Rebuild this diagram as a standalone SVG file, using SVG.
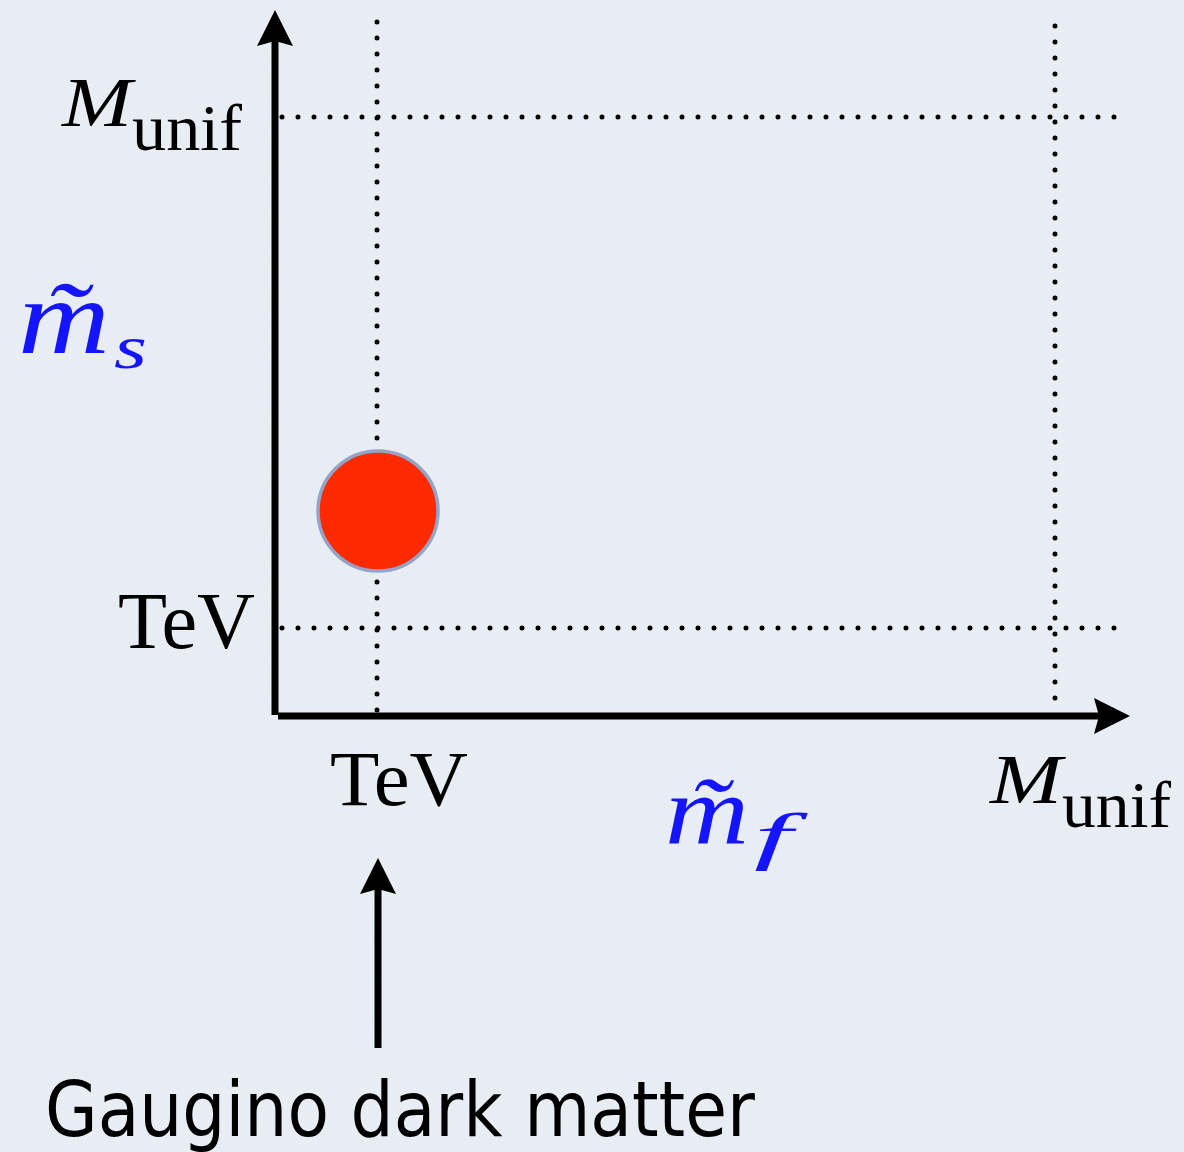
<svg xmlns="http://www.w3.org/2000/svg" width="1184" height="1152" viewBox="0 0 1184 1152">
  <style>
    .dot { fill: none; stroke: #000; stroke-width: 5; stroke-linecap: round; stroke-dasharray: 0 16; }
    .axis { fill: none; stroke: #000; stroke-width: 7; }
    .serif { font-family: "Liberation Serif", "Times New Roman", serif; fill: #000; }
    .ital { font-style: italic; }
    .blue { fill: #1414ff; }
    .sans { font-family: "DejaVu Sans", "Liberation Sans", Arial, sans-serif; fill: #000; }
  </style>
  <defs>
    <filter id="paper" x="0" y="0" width="100%" height="100%">
      <feTurbulence type="fractalNoise" baseFrequency="0.9" numOctaves="2" seed="3" result="n"/>
      <feColorMatrix in="n" type="matrix" values="0 0 0 0 1  0 0 0 0 1  0 0 0 0 1  0 0 0 0.35 0" result="w"/>
      <feComposite in="w" in2="SourceGraphic" operator="over"/>
    </filter>
  </defs>
  <rect id="background" x="0" y="0" width="1184" height="1152" fill="#e3e9f2" filter="url(#paper)"/>

  <g id="grid">
    <line class="dot" x1="282" y1="117" x2="1116" y2="117"/>
    <line class="dot" x1="282" y1="628" x2="1116" y2="628"/>
    <line class="dot" x1="377" y1="22" x2="377" y2="711"/>
    <line class="dot" x1="1055" y1="26" x2="1055" y2="700"/>
  </g>

  <g id="connectors">
    <line class="axis" x1="275" y1="715" x2="275" y2="40"/>
    <polygon points="275,10 293,46 275,41 257,46" fill="#000"/>
    <line class="axis" x1="278" y1="716" x2="1100" y2="716"/>
    <polygon points="1130,716 1094,734 1099,716 1094,698" fill="#000"/>
    <line class="axis" x1="378" y1="1048" x2="378" y2="888"/>
    <polygon points="378,858 396,894 378,889 360,894" fill="#000"/>
  </g>

  <g id="dot-node">
    <circle cx="378" cy="511" r="60" fill="#ff2a00" stroke="#93a4c6" stroke-width="3.5"/>
  </g>

  <g id="label-munif-y">
    <text class="serif ital" x="62" y="126" font-size="70" textLength="70" lengthAdjust="spacingAndGlyphs">M</text>
    <text class="serif" x="132" y="150" font-size="66" textLength="110" lengthAdjust="spacingAndGlyphs">unif</text>
  </g>
  <g id="label-tev-y">
    <text class="serif" x="118" y="648" font-size="80" textLength="137" lengthAdjust="spacingAndGlyphs">TeV</text>
  </g>
  <g id="label-tev-x">
    <text class="serif" x="330" y="805" font-size="78" textLength="138" lengthAdjust="spacingAndGlyphs">TeV</text>
  </g>
  <g id="label-munif-x">
    <text class="serif ital" x="990" y="803" font-size="70" textLength="72" lengthAdjust="spacingAndGlyphs">M</text>
    <text class="serif" x="1062" y="827" font-size="66" textLength="109" lengthAdjust="spacingAndGlyphs">unif</text>
  </g>
  <g id="label-ms">
    <text class="serif ital blue"><tspan x="18" y="353" font-size="106" textLength="92" lengthAdjust="spacingAndGlyphs">m&#x303;</tspan><tspan x="114" y="368" font-size="62" textLength="33" lengthAdjust="spacingAndGlyphs">s</tspan></text>
  </g>
  <g id="label-mf">
    <text class="serif ital blue"><tspan x="665" y="843" font-size="98" textLength="84" lengthAdjust="spacingAndGlyphs">m&#x303;</tspan><tspan x="754" y="857" font-size="64" textLength="38" lengthAdjust="spacingAndGlyphs">f</tspan></text>
  </g>
  <g id="label-gaugino">
    <text class="sans" x="45" y="1136" font-size="76" textLength="710" lengthAdjust="spacingAndGlyphs">Gaugino dark matter</text>
  </g>
</svg>
